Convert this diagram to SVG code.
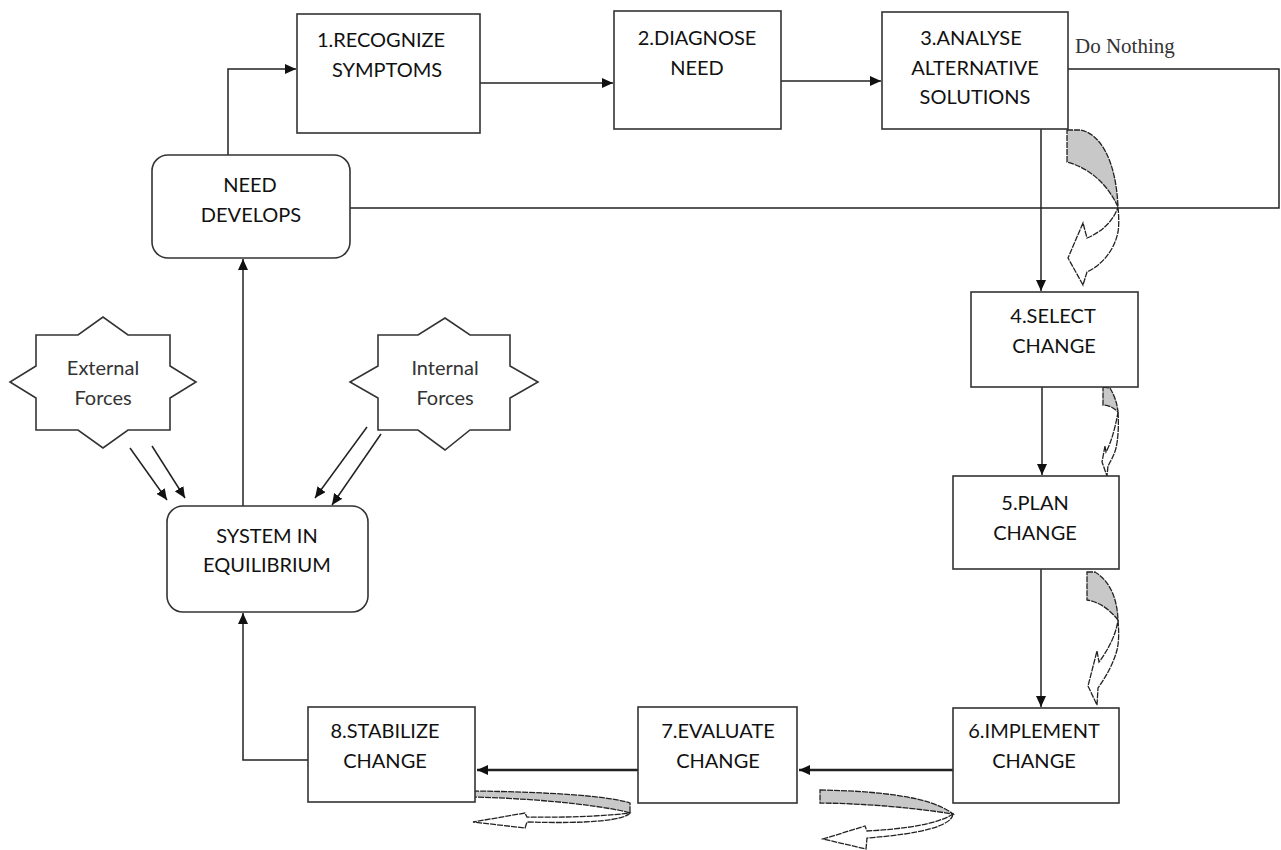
<svg xmlns="http://www.w3.org/2000/svg" width="1281" height="850" viewBox="0 0 1281 850">
<style>
.box{fill:#fff;stroke:#333;stroke-width:1.6}
.t{font-family:Lato,"Open Sans","Liberation Sans",sans-serif;font-size:20px;fill:#111;text-anchor:middle}
.s{font-family:Lato,"Open Sans","Liberation Sans",sans-serif;font-size:20px;fill:#333;text-anchor:middle}
.ln{fill:none;stroke:#222;stroke-width:1.5}
.th{fill:none;stroke:#222;stroke-width:2.6}
.ca{fill:#fff;stroke:#222;stroke-width:1.3;stroke-dasharray:6 1}
.cs{fill:#c8c8c8;stroke:#222;stroke-width:1.3;stroke-dasharray:6 1}
</style>
<defs>
<marker id="ah" markerUnits="userSpaceOnUse" markerWidth="12" markerHeight="10" refX="11" refY="5" orient="auto"><path d="M0,0 L11,5 L0,10 z" fill="#111"/></marker>
</defs>
<rect width="1281" height="850" fill="#fff"/>

<g id="connectors">
<polyline class="ln" points="228,155 228,69 296,69" marker-end="url(#ah)"/>
<line class="ln" x1="480" y1="83" x2="613" y2="83" marker-end="url(#ah)"/>
<line class="ln" x1="781" y1="81" x2="881" y2="81" marker-end="url(#ah)"/>
<polyline class="ln" points="1068,69 1279,69 1279,208 350,208"/>
<line class="ln" x1="1041" y1="129" x2="1041" y2="291" marker-end="url(#ah)"/>
<line class="ln" x1="1042" y1="387" x2="1042" y2="475" marker-end="url(#ah)"/>
<line class="ln" x1="1041" y1="569" x2="1041" y2="707" marker-end="url(#ah)"/>
<line class="th" x1="953" y1="770" x2="799" y2="770" marker-end="url(#ah)"/>
<line class="th" x1="638" y1="770" x2="477" y2="770" marker-end="url(#ah)"/>
<polyline class="ln" points="308,760 243,760 243,613" marker-end="url(#ah)"/>
<line class="ln" x1="243" y1="506" x2="243" y2="259" marker-end="url(#ah)"/>
<line class="ln" x1="130" y1="448" x2="167" y2="500" marker-end="url(#ah)"/>
<line class="ln" x1="152" y1="446" x2="185" y2="498" marker-end="url(#ah)"/>
<line class="ln" x1="367" y1="427" x2="315" y2="498" marker-end="url(#ah)"/>
<line class="ln" x1="381" y1="434" x2="332" y2="505" marker-end="url(#ah)"/>
</g>

<g id="curved-arrows">
<path class="cs" d="M1067,130 L1080,130 C1100,133 1116,160 1118,207 C1108,185 1090,168 1067,162 Z"/>
<path class="ca" d="M1118,207 C1119,218 1119,226 1118,232 C1114,252 1100,266 1087,272 L1083,285 L1068,258 L1083,223 L1087,238 C1102,232 1114,220 1118,207 Z"/>
<path class="cs" d="M1103,387 L1110,388 C1114,395 1117,402 1118,412 C1113,407 1108,405 1103,405 Z"/>
<path class="ca" d="M1118,412 C1119,425 1118,440 1116,448 C1114,456 1110,462 1108,466 L1107,476 L1102,462 L1105,446 L1106,452 C1110,445 1115,430 1118,412 Z"/>
<path class="cs" d="M1087,572 L1095,572 C1108,580 1117,595 1118,620 C1110,610 1100,602 1087,600 Z"/>
<path class="ca" d="M1118,620 C1119,632 1119,642 1117,650 C1113,665 1105,678 1098,688 L1097,705 L1088,686 L1097,651 L1099,662 C1108,650 1116,635 1118,620 Z"/>
<path class="cs" d="M820,790 C880,791 932,797 953,814 C940,812 890,804 820,803 Z"/>
<path class="ca" d="M953,814 C952,826 920,834 867,838 L866,849 L823,839 L865,826 L867,831 C905,829 938,824 953,814 Z"/>
<path class="cs" d="M473,791 C550,792 610,796 630,803 L630,813 C610,807 550,799 473,797 Z"/>
<path class="ca" d="M630,813 C625,820 590,824 527,822 L525,828 L473,822 L525,813 L527,817 C575,818 615,815 630,813 Z"/>
</g>

<g id="n1"><rect class="box" x="297" y="14" width="183" height="119"/>
<text class="t" x="381" y="47">1.RECOGNIZE</text><text class="t" x="387" y="77">SYMPTOMS</text></g>
<g id="n2"><rect class="box" x="614" y="11" width="167" height="118"/>
<text class="t" x="697" y="45">2.DIAGNOSE</text><text class="t" x="697" y="75">NEED</text></g>
<g id="n3"><rect class="box" x="882" y="12" width="186" height="117"/>
<text class="t" x="971" y="45">3.ANALYSE</text><text class="t" x="975" y="75">ALTERNATIVE</text><text class="t" x="975" y="104">SOLUTIONS</text></g>
<g id="donothing"><text x="1075" y="53" font-family="'Liberation Serif',serif" font-size="21" fill="#333">Do Nothing</text></g>
<g id="n4"><rect class="box" x="971" y="292" width="167" height="95"/>
<text class="t" x="1053" y="323">4.SELECT</text><text class="t" x="1054" y="353">CHANGE</text></g>
<g id="n5"><rect class="box" x="953" y="476" width="166" height="93"/>
<text class="t" x="1035" y="510">5.PLAN</text><text class="t" x="1035" y="540">CHANGE</text></g>
<g id="n6"><rect class="box" x="953" y="708" width="166" height="95"/>
<text class="t" x="1034" y="738">6.IMPLEMENT</text><text class="t" x="1034" y="768">CHANGE</text></g>
<g id="n7"><rect class="box" x="638" y="707" width="159" height="96"/>
<text class="t" x="718" y="738">7.EVALUATE</text><text class="t" x="718" y="768">CHANGE</text></g>
<g id="n8"><rect class="box" x="308" y="707" width="167" height="95"/>
<text class="t" x="385" y="738">8.STABILIZE</text><text class="t" x="385" y="768">CHANGE</text></g>
<g id="need"><rect class="box" x="152" y="155" width="198" height="103" rx="16"/>
<text class="t" x="250" y="192">NEED</text><text class="t" x="251" y="222">DEVELOPS</text></g>
<g id="system"><rect class="box" x="167" y="506" width="201" height="106" rx="16"/>
<text class="t" x="267" y="543">SYSTEM IN</text><text class="t" x="267" y="572">EQUILIBRIUM</text></g>
<g id="external"><polygon class="box" points="36,335 78,335 103,317 128,335 170,335 170,366 196,382 170,398 170,430 128,430 103,448 78,430 36,430 36,398 10,382 36,366"/>
<text class="s" x="103" y="375">External</text><text class="s" x="103" y="405">Forces</text></g>
<g id="internal"><polygon class="box" points="378,335 418,335 445,318 470,335 510,335 510,366 538,382 510,398 510,430 470,430 445,450 418,430 378,430 378,398 350,382 378,366"/>
<text class="s" x="445" y="375">Internal</text><text class="s" x="445" y="405">Forces</text></g>
</svg>
